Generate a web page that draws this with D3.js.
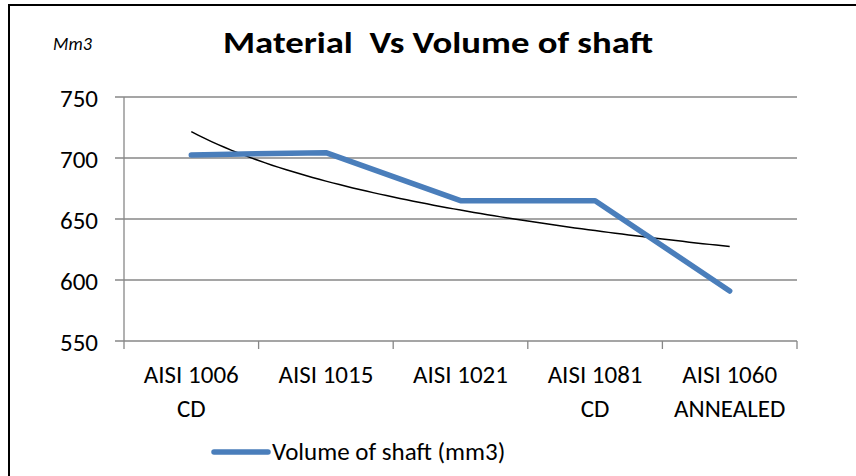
<!DOCTYPE html>
<html>
<head>
<meta charset="utf-8">
<script src="https://cdn.jsdelivr.net/npm/d3@7"></script>
<style>
  body { margin: 0; background: #fff; }
  text { font-family: Carlito, Lato, "Open Sans", sans-serif; fill: #000; }
</style>
</head>
<body>
<div id="chart"></div>
<script>
/* DATA */
const categories = ["AISI 1006|CD", "AISI 1015", "AISI 1021", "AISI 1081|CD", "AISI 1060|ANNEALED"];
const volumes = [702.5, 704.4, 665, 665, 591];
const yTicks = [550, 600, 650, 700, 750];
const seriesName = "Volume of shaft (mm3)";

/* CONSTANTS */
const width = 856, height = 476;
const plot = { left: 124, right: 797, top: 97, bottom: 341 };
const fontSize = 25;

const svg = d3.select("#chart").append("svg")
  .attr("width", width)
  .attr("height", height);

// outer frame (cut off at right/bottom like the source)
svg.append("rect")
  .attr("x", 9).attr("y", 5)
  .attr("width", 900).attr("height", 500)
  .attr("fill", "none")
  .attr("stroke", "#000")
  .attr("stroke-width", 2);

// SCALES
const xScale = d3.scalePoint()
  .domain(categories)
  .range([plot.left, plot.right])
  .padding(0.5);

const yScale = d3.scaleLinear()
  .domain([550, 750])
  .range([plot.bottom, plot.top]);

// gridlines + y ticks
svg.append("g")
  .selectAll("line")
  .data(yTicks)
  .join("line")
  .attr("x1", plot.left - 9)
  .attr("x2", plot.right)
  .attr("y1", d => yScale(d))
  .attr("y2", d => yScale(d))
  .attr("stroke", "#878787")
  .attr("stroke-width", 1.3);

// y axis
const yAxis = d3.axisLeft(yScale).tickValues(yTicks).tickSize(0).tickPadding(26);
svg.append("g")
  .attr("transform", `translate(${plot.left},0)`)
  .call(yAxis)
  .call(g => g.select(".domain").remove())
  .call(g => g.selectAll("text")
    .attr("font-size", fontSize)
    .attr("font-family", null)
    .attr("dy", "0.36em"));

svg.append("line")
  .attr("x1", plot.left).attr("x2", plot.left)
  .attr("y1", plot.top).attr("y2", plot.bottom + 8)
  .attr("stroke", "#878787").attr("stroke-width", 1.3);

// category boundary ticks
const step = xScale.step();
svg.append("g")
  .selectAll("line")
  .data(categories.slice(1).concat(["end"]))
  .join("line")
  .attr("x1", (d, i) => plot.left + step * (i + 1))
  .attr("x2", (d, i) => plot.left + step * (i + 1))
  .attr("y1", plot.bottom)
  .attr("y2", plot.bottom + 8)
  .attr("stroke", "#878787").attr("stroke-width", 1.3);

// category labels
const xLab = svg.append("g")
  .selectAll("text")
  .data(categories)
  .join("text")
  .attr("x", d => xScale(d))
  .attr("y", 383)
  .attr("text-anchor", "middle")
  .attr("font-size", fontSize);
xLab.selectAll("tspan")
  .data(d => d.split("|").map(s => ({ s, x: xScale(d) })))
  .join("tspan")
  .attr("x", d => d.x)
  .attr("dy", (d, i) => i === 0 ? 0 : 34)
  .text(d => d.s);

// trendline (logarithmic fit of the series, as in the spreadsheet)
const lnX = volumes.map((v, i) => Math.log(i + 1));
const mx = d3.mean(lnX), my = d3.mean(volumes);
const b = d3.sum(lnX, (l, i) => (l - mx) * (volumes[i] - my)) / d3.sum(lnX, l => (l - mx) ** 2);
const a = my - b * mx;
const idxScale = d3.scaleLinear().domain([1, categories.length])
  .range([xScale(categories[0]), xScale(categories[categories.length - 1])]);
const trendX = d3.range(1, categories.length + 0.001, 0.05);
svg.append("path")
  .datum(trendX)
  .attr("fill", "none")
  .attr("stroke", "#000")
  .attr("stroke-width", 1.5)
  .attr("d", d3.line().x(t => idxScale(t)).y(t => yScale(a + b * Math.log(t))));

// series line
svg.append("path")
  .datum(volumes)
  .attr("fill", "none")
  .attr("stroke", "#4a7ebb")
  .attr("stroke-width", 5.5)
  .attr("stroke-linejoin", "round")
  .attr("stroke-linecap", "round")
  .attr("d", d3.line().x((d, i) => xScale(categories[i])).y(d => yScale(d)));

// title
svg.append("text")
  .attr("x", 438).attr("y", 53)
  .attr("text-anchor", "middle")
  .attr("font-size", 31)
  .attr("font-weight", "bold")
  .attr("textLength", 430)
  .attr("lengthAdjust", "spacingAndGlyphs")
  .style("white-space", "pre")
  .text("Material  Vs Volume of shaft");

// unit label
svg.append("text")
  .attr("x", 53).attr("y", 50)
  .attr("font-size", 18)
  .attr("font-style", "italic")
  .text("Mm3");

// legend
svg.append("line")
  .attr("x1", 214).attr("x2", 268)
  .attr("y1", 452).attr("y2", 452)
  .attr("stroke", "#4a7ebb")
  .attr("stroke-width", 5.5)
  .attr("stroke-linecap", "round");
svg.append("text")
  .attr("x", 272).attr("y", 460)
  .attr("font-size", fontSize)
  .text(seriesName);
</script>
</body>
</html>
